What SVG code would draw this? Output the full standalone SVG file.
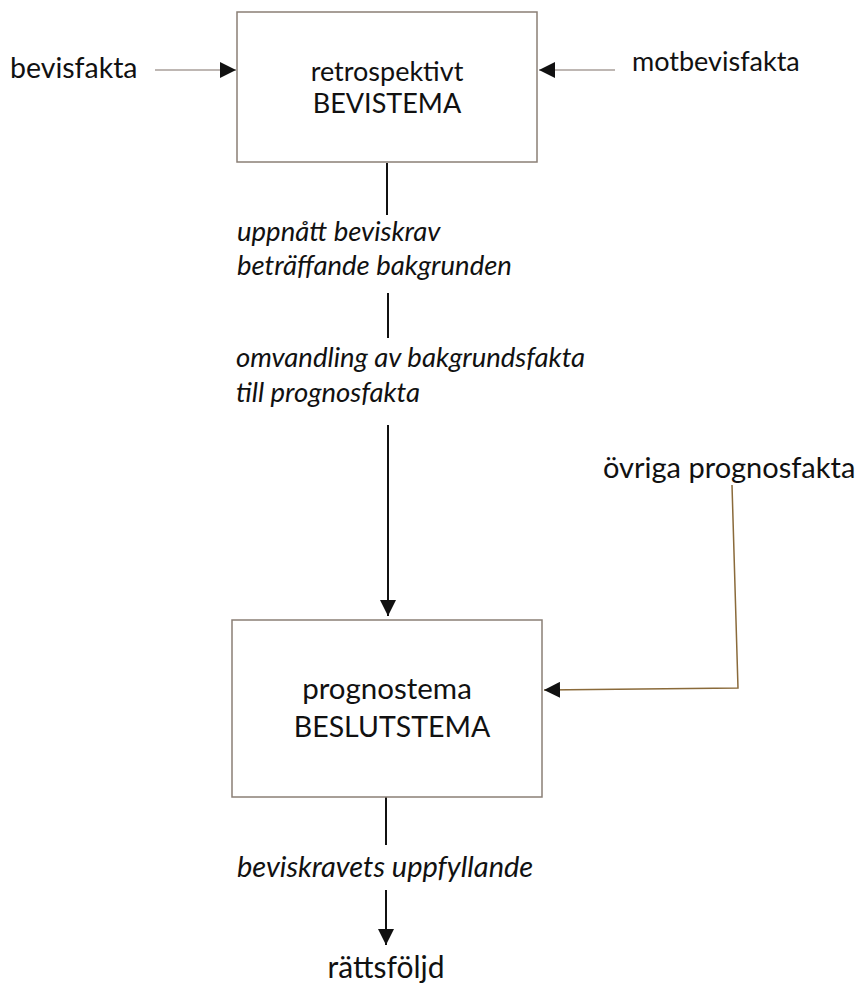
<svg xmlns="http://www.w3.org/2000/svg" width="859" height="985" viewBox="0 0 859 985">
<defs>
<style>
text{font-family:"Lato","Open Sans","Liberation Sans",sans-serif;font-size:27px;fill:#111}
.it{font-style:italic;font-size:27.5px}
.lg{font-size:28.5px}
.box{fill:#fff;stroke:#8a7f76;stroke-width:1.5}
.ln{stroke:#111;stroke-width:2;fill:none}
.lt{stroke:#a89f9a;stroke-width:1.5;fill:none}
.br{stroke:#8a6a3a;stroke-width:1.5;fill:none}
</style>
<marker id="ahb" viewBox="0 0 10 10" refX="10" refY="5" markerWidth="16" markerHeight="16" markerUnits="userSpaceOnUse" orient="auto">
<path d="M0,0 L10,5 L0,10 z" fill="#111"/>
</marker>
</defs>
<rect width="859" height="985" fill="#fff"/>
<g id="connectors">
<line class="lt" x1="155" y1="70" x2="236" y2="70" marker-end="url(#ahb)"/>
<line class="lt" x1="615" y1="70" x2="539" y2="70" marker-end="url(#ahb)"/>
<line class="ln" x1="387" y1="163" x2="387" y2="215"/>
<line class="ln" x1="388" y1="293" x2="388" y2="338"/>
<line class="ln" x1="388" y1="425" x2="388" y2="616" marker-end="url(#ahb)"/>
<polyline class="br" points="732,485 738,688 544,690" marker-end="url(#ahb)"/>
<line class="ln" x1="386" y1="797" x2="386" y2="845"/>
<line class="ln" x1="386" y1="890" x2="386" y2="945" marker-end="url(#ahb)"/>
</g>
<g id="bevisfakta"><text x="10" y="78" class="lg">bevisfakta</text></g>
<g id="motbevisfakta"><text x="632" y="71">motbevisfakta</text></g>
<g id="bevistema">
<rect class="box" x="237" y="12" width="300" height="150"/>
<text x="387" y="81" text-anchor="middle">retrospektivt</text>
<text x="387" y="113" text-anchor="middle">BEVISTEMA</text>
</g>
<g id="label1">
<text class="it" x="237" y="241">uppnått beviskrav</text>
<text class="it" x="237" y="275">beträffande bakgrunden</text>
</g>
<g id="label2">
<text class="it" x="236" y="367">omvandling av bakgrundsfakta</text>
<text class="it" x="236" y="402">till prognosfakta</text>
</g>
<g id="ovriga"><text x="603" y="478" class="lg" style="font-size:29px">övriga prognosfakta</text></g>
<g id="beslutstema">
<rect class="box" x="232" y="620" width="310" height="177"/>
<text x="387" y="699" text-anchor="middle" style="font-size:29.5px">prognostema</text>
<text x="392" y="737" text-anchor="middle" style="font-size:28.5px">BESLUTSTEMA</text>
</g>
<g id="label3"><text class="it" x="237" y="877" style="font-size:29px">beviskravets uppfyllande</text></g>
<g id="rattsfoljd"><text x="386" y="978" text-anchor="middle" style="font-size:30px">rättsföljd</text></g>
</svg>
